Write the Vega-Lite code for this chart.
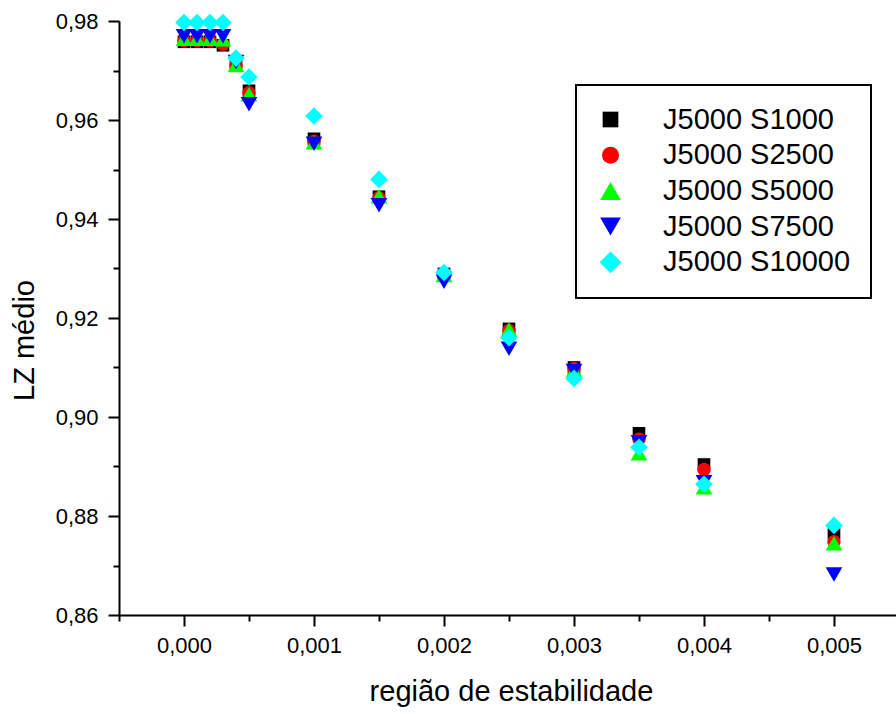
{
  "$schema": "https://vega.github.io/schema/vega-lite/v6.json",
  "width": 777,
  "height": 594,
  "autosize": {"type": "none"},
  "padding": {"left": 119, "top": 21, "right": 0, "bottom": 99},
  "background": "white",
  "config": {
    "font": "Liberation Sans",
    "view": {"stroke": null},
    "axis": {
      "grid": false,
      "domainColor": "black",
      "domainWidth": 2,
      "tickColor": "black",
      "tickWidth": 2,
      "labelColor": "black",
      "labelFont": "Liberation Sans",
      "labelFontSize": 22,
      "titleFont": "Liberation Sans",
      "titleFontSize": 29,
      "titleFontWeight": "normal",
      "titleColor": "black"
    },
    "legend": {
      "labelFont": "Liberation Sans",
      "labelFontSize": 29,
      "labelColor": "black",
      "strokeColor": "black",
      "strokeWidth": 2,
      "fillColor": "white"
    }
  },
  "data": {
    "values": [
      {"x": 0, "y": 0.9758, "series": "J5000 S1000"},
      {"x": 0.0001, "y": 0.9758, "series": "J5000 S1000"},
      {"x": 0.0002, "y": 0.9758, "series": "J5000 S1000"},
      {"x": 0.0003, "y": 0.9751, "series": "J5000 S1000"},
      {"x": 0.0004, "y": 0.9710, "series": "J5000 S1000"},
      {"x": 0.0005, "y": 0.9659, "series": "J5000 S1000"},
      {"x": 0.001, "y": 0.9562, "series": "J5000 S1000"},
      {"x": 0.0015, "y": 0.9445, "series": "J5000 S1000"},
      {"x": 0.002, "y": 0.9289, "series": "J5000 S1000"},
      {"x": 0.0025, "y": 0.9178, "series": "J5000 S1000"},
      {"x": 0.003, "y": 0.9100, "series": "J5000 S1000"},
      {"x": 0.0035, "y": 0.8967, "series": "J5000 S1000"},
      {"x": 0.004, "y": 0.8904, "series": "J5000 S1000"},
      {"x": 0.005, "y": 0.8765, "series": "J5000 S1000"},

      {"x": 0, "y": 0.9760, "series": "J5000 S2500"},
      {"x": 0.0001, "y": 0.9760, "series": "J5000 S2500"},
      {"x": 0.0002, "y": 0.9760, "series": "J5000 S2500"},
      {"x": 0.0003, "y": 0.9753, "series": "J5000 S2500"},
      {"x": 0.0004, "y": 0.9710, "series": "J5000 S2500"},
      {"x": 0.0005, "y": 0.9655, "series": "J5000 S2500"},
      {"x": 0.001, "y": 0.9557, "series": "J5000 S2500"},
      {"x": 0.0015, "y": 0.9443, "series": "J5000 S2500"},
      {"x": 0.002, "y": 0.9285, "series": "J5000 S2500"},
      {"x": 0.0025, "y": 0.9175, "series": "J5000 S2500"},
      {"x": 0.003, "y": 0.9098, "series": "J5000 S2500"},
      {"x": 0.0035, "y": 0.8955, "series": "J5000 S2500"},
      {"x": 0.004, "y": 0.8894, "series": "J5000 S2500"},
      {"x": 0.005, "y": 0.8748, "series": "J5000 S2500"},

      {"x": 0, "y": 0.9764, "series": "J5000 S5000"},
      {"x": 0.0001, "y": 0.9764, "series": "J5000 S5000"},
      {"x": 0.0002, "y": 0.9764, "series": "J5000 S5000"},
      {"x": 0.0003, "y": 0.9763, "series": "J5000 S5000"},
      {"x": 0.0004, "y": 0.9711, "series": "J5000 S5000"},
      {"x": 0.0005, "y": 0.9652, "series": "J5000 S5000"},
      {"x": 0.001, "y": 0.9555, "series": "J5000 S5000"},
      {"x": 0.0015, "y": 0.9446, "series": "J5000 S5000"},
      {"x": 0.002, "y": 0.9287, "series": "J5000 S5000"},
      {"x": 0.0025, "y": 0.9177, "series": "J5000 S5000"},
      {"x": 0.003, "y": 0.9095, "series": "J5000 S5000"},
      {"x": 0.0035, "y": 0.8927, "series": "J5000 S5000"},
      {"x": 0.004, "y": 0.8858, "series": "J5000 S5000"},
      {"x": 0.005, "y": 0.8745, "series": "J5000 S5000"},

      {"x": 0, "y": 0.9769, "series": "J5000 S7500"},
      {"x": 0.0001, "y": 0.9769, "series": "J5000 S7500"},
      {"x": 0.0002, "y": 0.9769, "series": "J5000 S7500"},
      {"x": 0.0003, "y": 0.9769, "series": "J5000 S7500"},
      {"x": 0.0004, "y": 0.9717, "series": "J5000 S7500"},
      {"x": 0.0005, "y": 0.9632, "series": "J5000 S7500"},
      {"x": 0.001, "y": 0.9552, "series": "J5000 S7500"},
      {"x": 0.0015, "y": 0.9428, "series": "J5000 S7500"},
      {"x": 0.002, "y": 0.9273, "series": "J5000 S7500"},
      {"x": 0.0025, "y": 0.9138, "series": "J5000 S7500"},
      {"x": 0.003, "y": 0.9093, "series": "J5000 S7500"},
      {"x": 0.0035, "y": 0.8949, "series": "J5000 S7500"},
      {"x": 0.004, "y": 0.8868, "series": "J5000 S7500"},
      {"x": 0.005, "y": 0.8682, "series": "J5000 S7500"},

      {"x": 0, "y": 0.9797, "series": "J5000 S10000"},
      {"x": 0.0001, "y": 0.9797, "series": "J5000 S10000"},
      {"x": 0.0002, "y": 0.9797, "series": "J5000 S10000"},
      {"x": 0.0003, "y": 0.9797, "series": "J5000 S10000"},
      {"x": 0.0004, "y": 0.9725, "series": "J5000 S10000"},
      {"x": 0.0005, "y": 0.9687, "series": "J5000 S10000"},
      {"x": 0.001, "y": 0.9608, "series": "J5000 S10000"},
      {"x": 0.0015, "y": 0.9480, "series": "J5000 S10000"},
      {"x": 0.002, "y": 0.9292, "series": "J5000 S10000"},
      {"x": 0.0025, "y": 0.9160, "series": "J5000 S10000"},
      {"x": 0.003, "y": 0.9078, "series": "J5000 S10000"},
      {"x": 0.0035, "y": 0.8939, "series": "J5000 S10000"},
      {"x": 0.004, "y": 0.8864, "series": "J5000 S10000"},
      {"x": 0.005, "y": 0.8781, "series": "J5000 S10000"}
    ]
  },
  "layer": [
    {
      "mark": {"type": "point", "opacity": 0, "clip": false},
      "encoding": {
        "x": {
          "field": "x",
          "type": "quantitative",
          "scale": {"domain": [-0.0005, 0.005477], "nice": false, "zero": false},
          "axis": {
            "orient": "bottom",
            "title": null,
            "labels": false,
            "domain": false,
            "tickSize": 6,
            "values": [-0.0005, 0.0005, 0.0015, 0.0025, 0.0035, 0.0045]
          }
        },
        "y": {
          "field": "y",
          "type": "quantitative",
          "scale": {"domain": [0.86, 0.98], "nice": false, "zero": false},
          "axis": {
            "orient": "left",
            "title": null,
            "labels": false,
            "domain": false,
            "tickSize": 6,
            "values": [0.87, 0.89, 0.91, 0.93, 0.95, 0.97]
          }
        }
      }
    },
    {
      "encoding": {
        "x": {
          "field": "x",
          "type": "quantitative",
          "axis": {
            "orient": "bottom",
            "title": "região de estabilidade",
            "values": [0, 0.001, 0.002, 0.003, 0.004, 0.005],
            "labelExpr": "replace(format(datum.value, '.3f'), '.', ',')",
            "tickSize": 11,
            "labelPadding": 9,
            "labelFlush": false,
            "labelOverlap": false,
            "titleBaseline": "alphabetic",
            "titleAnchor": "middle",
            "titleY": 85,
            "titleX": 392
          }
        },
        "y": {
          "field": "y",
          "type": "quantitative",
          "axis": {
            "orient": "left",
            "title": "LZ médio",
            "values": [0.86, 0.88, 0.9, 0.92, 0.94, 0.96, 0.98],
            "labelExpr": "replace(format(datum.value, '.2f'), '.', ',')",
            "tickSize": 11,
            "labelPadding": 10,
            "labelFlush": false,
            "labelOverlap": false,
            "titleBaseline": "alphabetic",
            "titleAngle": -90,
            "titleAnchor": "middle",
            "titleX": -86,
            "titleY": 319
          }
        },
        "color": {
          "field": "series",
          "type": "nominal",
          "sort": null,
          "scale": {
            "domain": ["J5000 S1000", "J5000 S2500", "J5000 S5000", "J5000 S7500", "J5000 S10000"],
            "range": ["#000000", "#ff0000", "#00ff00", "#0000ff", "#00ffff"]
          },
          "legend": {
            "title": null,
            "orient": "none",
            "legendX": 457,
            "legendY": 64,
            "padding": 20,
            "symbolOffset": 0,
            "columnPadding": 0,
            "cornerRadius": 0,
            "rowPadding": 5.7,
            "labelOffset": 38,
            "symbolSize": 400,
            "symbolStrokeWidth": 0,
            "symbolOpacity": 1,
            "labelLimit": 400,
            "encode": {
              "symbols": {
                "update": {
                  "size": {"signal": "datum.value === 'J5000 S1000' ? 246 : datum.value === 'J5000 S2500' ? 290 : datum.value === 'J5000 S10000' ? 470 : 430"}
                }
              }
            }
          }
        },
        "shape": {
          "field": "series",
          "type": "nominal",
          "sort": null,
          "scale": {
            "domain": ["J5000 S1000", "J5000 S2500", "J5000 S5000", "J5000 S7500", "J5000 S10000"],
            "range": ["square", "circle", "triangle-up", "triangle-down", "diamond"]
          },
          "legend": {
            "title": null,
            "orient": "none",
            "legendX": 457,
            "legendY": 64,
            "padding": 20,
            "symbolOffset": 0,
            "columnPadding": 0,
            "cornerRadius": 0,
            "rowPadding": 5.7,
            "labelOffset": 38,
            "symbolSize": 400,
            "symbolStrokeWidth": 0,
            "symbolOpacity": 1,
            "labelLimit": 400,
            "encode": {
              "symbols": {
                "update": {
                  "size": {"signal": "datum.value === 'J5000 S1000' ? 246 : datum.value === 'J5000 S2500' ? 290 : datum.value === 'J5000 S10000' ? 470 : 430"}
                }
              }
            }
          }
        }
      },
      "layer": [
        {
          "transform": [{"filter": "datum.series === 'J5000 S1000'"}],
          "mark": {"type": "point", "filled": true, "opacity": 1, "strokeWidth": 0, "clip": false, "size": 160}
        },
        {
          "transform": [{"filter": "datum.series === 'J5000 S2500'"}],
          "mark": {"type": "point", "filled": true, "opacity": 1, "strokeWidth": 0, "clip": false, "size": 180}
        },
        {
          "transform": [{"filter": "datum.series === 'J5000 S5000'"}],
          "mark": {"type": "point", "filled": true, "opacity": 1, "strokeWidth": 0, "clip": false, "size": 280}
        },
        {
          "transform": [{"filter": "datum.series === 'J5000 S7500'"}],
          "mark": {"type": "point", "filled": true, "opacity": 1, "strokeWidth": 0, "clip": false, "size": 280}
        },
        {
          "transform": [{"filter": "datum.series === 'J5000 S10000'"}],
          "mark": {"type": "point", "filled": true, "opacity": 1, "strokeWidth": 0, "clip": false, "size": 310}
        }
      ]
    }
  ],
  "resolve": {"axis": {"x": "independent", "y": "independent"}}
}
